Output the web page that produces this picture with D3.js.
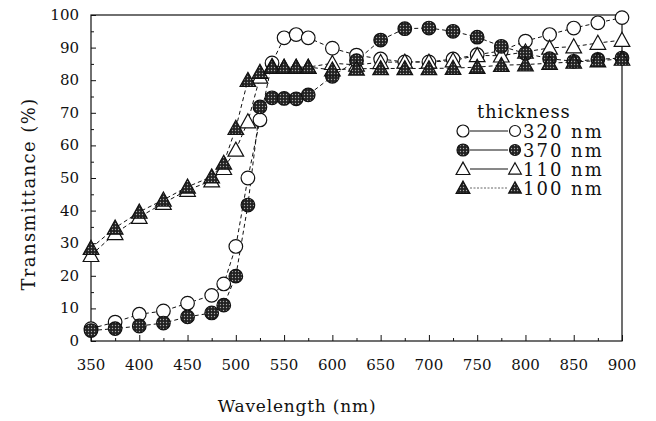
<!DOCTYPE html>
<html>
<head>
<meta charset="utf-8">
<script src="https://cdn.jsdelivr.net/npm/d3@7"></script>
<style>
  body { margin: 0; background: #fff; }
  svg text { font-family: "DejaVu Serif", serif; fill: #111; }
</style>
</head>
<body>
<svg id="chart"></svg>
<script>
// Data
const wavelength = [350, 375, 400, 425, 450, 475, 487.5, 500, 512.5, 525, 537.5, 550, 562.5, 575,
  600, 625, 650, 675, 700, 725, 750, 775, 800, 825, 850, 875, 900];
const t320 = [3.8, 5.8, 8.2, 9.2, 11.6, 14, 17.5, 29, 50, 67.8, 85.3, 93, 94, 93,
  89.8, 87.7, 86.5, 85.6, 85.6, 86.5, 87.8, 89, 92, 94, 96, 97.6, 99.2];
const t370 = [3.2, 3.8, 4.6, 5.5, 7.4, 8.6, 11, 19.9, 41.7, 71.8, 74.6, 74.4, 74.3, 75.5,
  81.2, 86, 92.3, 95.8, 96, 95, 93.2, 90.4, 88.2, 86.6, 85.8, 86.4, 86.8];
const t110 = [26.3, 33, 38, 42.3, 46.3, 49.2, 53, 58.6, 67.3, 81, 84.3, 84, 84, 84,
  85.2, 84.7, 85.5, 85.6, 85.6, 86, 87.6, 87.5, 88.7, 89.9, 90.3, 91.4, 92.3];
const t100 = [28.5, 34.7, 39.6, 43.3, 47.3, 50.4, 54.6, 65.3, 80, 82.5, 84, 84, 84, 84,
  83.2, 83.5, 83.6, 83.6, 83.6, 83.7, 84, 84.6, 84.8, 85.2, 85.6, 86, 86.5];

const xTicks = [350, 400, 450, 500, 550, 600, 650, 700, 750, 800, 850, 900];
const yTicks = [0, 10, 20, 30, 40, 50, 60, 70, 80, 90, 100];

const series = [
  { name: "320 nm", values: t320, shape: "circle", filled: false, legendDash: null },
  { name: "110 nm", values: t110, shape: "triangle", filled: false, legendDash: null },
  { name: "370 nm", values: t370, shape: "circle", filled: true, legendDash: null },
  { name: "100 nm", values: t100, shape: "triangle", filled: true, legendDash: "2,1.5" }
];
const legendOrder = ["320 nm", "370 nm", "110 nm", "100 nm"];

const width = 656, height = 421;
const margin = { top: 15, right: 34, bottom: 80, left: 91 };

const svg = d3.select("#chart")
  .attr("width", width)
  .attr("height", height);

// halftone fill for the solid markers
const defs = svg.append("defs");
const pat = defs.append("pattern")
  .attr("id", "dots")
  .attr("patternUnits", "userSpaceOnUse")
  .attr("width", 3).attr("height", 3);
pat.append("rect").attr("width", 3).attr("height", 3).attr("fill", "#222");
pat.append("circle").attr("cx", 1.5).attr("cy", 1.5).attr("r", 0.7).attr("fill", "#aaa");

const x = d3.scaleLinear().domain([350, 900]).range([margin.left, width - margin.right]);
const y = d3.scaleLinear().domain([0, 100]).range([height - margin.bottom, margin.top]);

// frame
svg.append("rect")
  .attr("x", x(350)).attr("y", y(100))
  .attr("width", x(900) - x(350)).attr("height", y(0) - y(100))
  .attr("fill", "none").attr("stroke", "#111").attr("stroke-width", 1.2);

// bottom axis, ticks pointing in
const xAxis = svg.append("g")
  .attr("transform", `translate(0,${y(0)})`)
  .call(d3.axisBottom(x).tickValues(d3.range(350, 901, 25)).tickSize(0).tickFormat(""));
xAxis.select(".domain").remove();
xAxis.selectAll(".tick line")
  .attr("y2", d => d % 50 === 0 ? -6 : -3)
  .attr("stroke", "#111");
svg.append("g")
  .selectAll("text")
  .data(xTicks)
  .join("text")
  .attr("x", d => x(d))
  .attr("y", y(0) + 29)
  .attr("text-anchor", "middle")
  .style("font-size", "15px")
  .text(d => d);

// left axis
const yAxis = svg.append("g")
  .attr("transform", `translate(${x(350)},0)`)
  .call(d3.axisLeft(y).tickValues(d3.range(0, 101, 5)).tickSize(0).tickFormat(""));
yAxis.select(".domain").remove();
yAxis.selectAll(".tick line")
  .attr("x2", d => d % 10 === 0 ? 5 : 3)
  .attr("stroke", "#111");
svg.append("g")
  .selectAll("text")
  .data(yTicks)
  .join("text")
  .attr("x", x(350) - 12)
  .attr("y", d => y(d) + 5)
  .attr("text-anchor", "end")
  .style("font-size", "15px")
  .text(d => d);

// axis titles
svg.append("text")
  .attr("x", 297).attr("y", 412)
  .attr("text-anchor", "middle")
  .style("font-size", "17px")
  .style("letter-spacing", "0.8px")
  .text("Wavelength (nm)");

svg.append("text")
  .attr("transform", `translate(35,${(y(0) + y(100)) / 2 + 16}) rotate(-90)`)
  .attr("text-anchor", "middle")
  .style("font-size", "18px")
  .style("letter-spacing", "1.4px")
  .text("Transmittance (%)");

// markers
function drawMarker(g, s, cx, cy, size) {
  const fill = s.filled ? "url(#dots)" : "#fff";
  if (s.shape === "circle") {
    g.append("circle").attr("cx", cx).attr("cy", cy).attr("r", size)
      .attr("fill", fill).attr("stroke", "#111").attr("stroke-width", 1.2);
  } else {
    const h = size * 1.15;
    g.append("path")
      .attr("d", `M${cx},${cy - h} L${cx + h},${cy + h * 0.8} L${cx - h},${cy + h * 0.8} Z`)
      .attr("fill", fill).attr("stroke", "#111").attr("stroke-width", 1.2);
  }
}

const line = d3.line().x(d => x(d[0])).y(d => y(d[1]));

series.forEach(s => {
  const pts = wavelength.map((w, i) => [w, s.values[i]]);
  svg.append("path")
    .datum(pts)
    .attr("d", line)
    .attr("fill", "none")
    .attr("stroke", "#111")
    .attr("stroke-width", 1)
    .attr("stroke-dasharray", "4,3");
});

series.forEach(s => {
  const g = svg.append("g");
  wavelength.forEach((w, i) => drawMarker(g, s, x(w), y(s.values[i]), 6.8));
});

// legend
const legend = svg.append("g");
legend.append("text")
  .attr("x", 477).attr("y", 118)
  .style("font-size", "18px")
  .style("letter-spacing", "0.8px")
  .text("thickness");

legendOrder.forEach((name, i) => {
  const s = series.find(d => d.name === name);
  const cy = 131 + i * 19;
  drawMarker(legend, s, 463, cy, 6);
  legend.append("line")
    .attr("x1", 470).attr("x2", 508)
    .attr("y1", cy).attr("y2", cy)
    .attr("stroke", s.legendDash ? "#666" : "#111")
    .attr("stroke-width", 1)
    .attr("stroke-dasharray", s.legendDash);
  drawMarker(legend, s, 515, cy, 5.5);
  legend.append("text")
    .attr("x", 523).attr("y", cy + 6.5)
    .style("font-size", "18px")
    .style("letter-spacing", "2px")
    .text(name);
});
</script>
</body>
</html>
